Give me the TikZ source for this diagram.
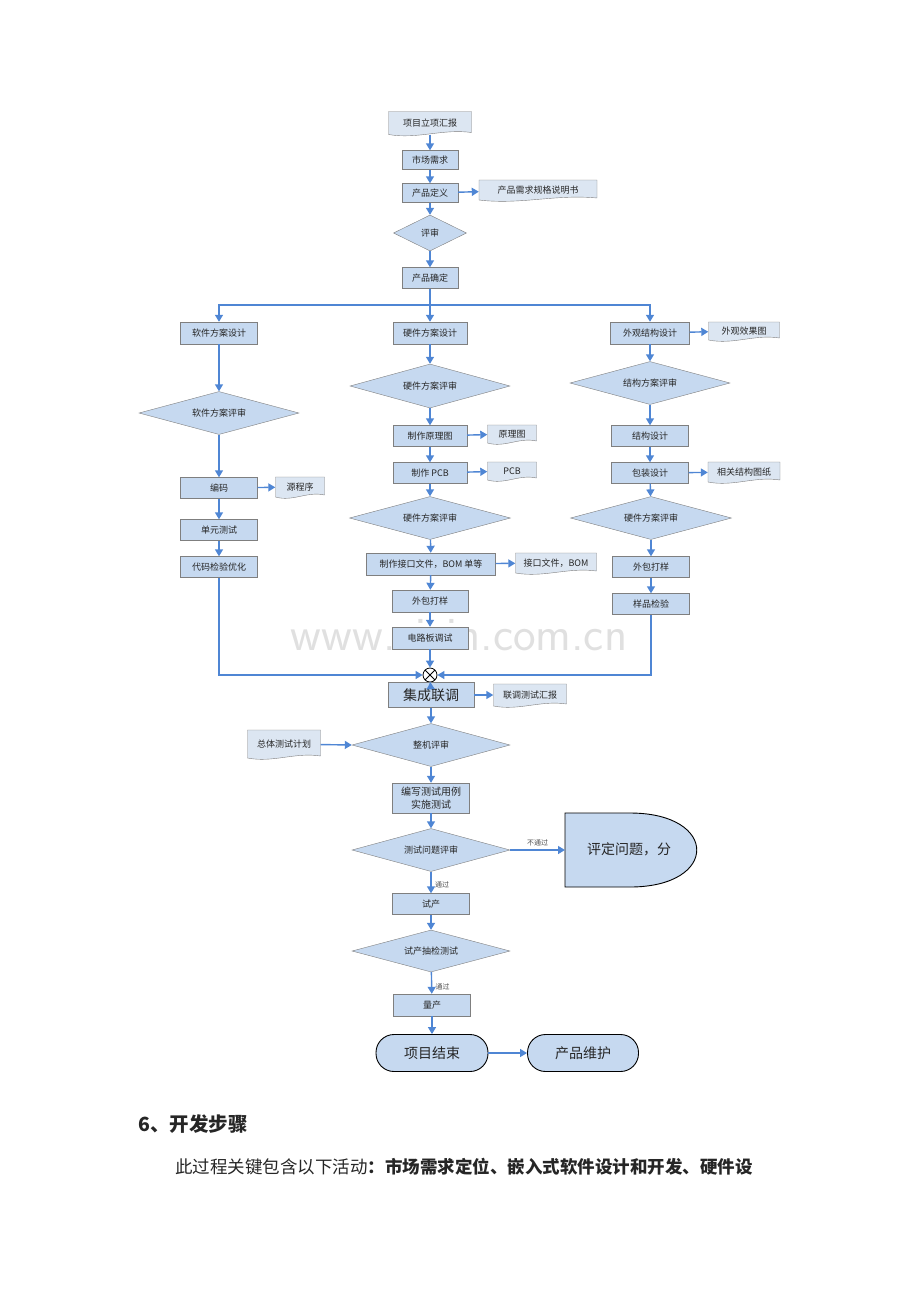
\documentclass[tikz,border=0pt]{standalone}
\usepackage{fontspec}
\newfontfamily\cjk{Noto Sans CJK SC}
\usetikzlibrary{arrows.meta,shapes.geometric,calc}
\definecolor{bfill}{HTML}{C6D9F0}
\definecolor{dfill}{HTML}{DCE6F2}
\definecolor{edge}{HTML}{7F7F7F}
\definecolor{arr}{HTML}{4F86D4}
\tikzset{
 x=1pt,y=-1pt,
 every node/.style={font=\cjk\fontsize{9}{10}\selectfont,text=black!85},
 box/.style={draw=edge,fill=bfill,inner sep=1pt},
 dia/.style={draw=edge,fill=bfill,diamond,inner sep=0pt,shape aspect=3.7},
 docst/.style={draw=edge,fill=dfill},
 ar/.style={draw=arr,line width=1.4pt,-{Triangle[length=7pt,width=8pt]}},
 ln/.style={draw=arr,line width=1.4pt},
 lbl/.style={font=\cjk\fontsize{7}{8}\selectfont,text=black!70}
}
\newcommand\bx[6]{\node[box,minimum width=#4pt,minimum height=#5pt] (#1) at (#2,#3) {#6};}
\newcommand\dm[6]{\node[dia,minimum width=#4pt,minimum height=#5pt] (#1) at (#2,#3) {#6};}
\newcommand\dc[6]{%
 \begin{scope}[shift={(#2,#3)}]
 \pgfmathsetmacro\hw{#4/2}\pgfmathsetmacro\hh{#5/2}
 \filldraw[docst] (-\hw,-\hh) -- (\hw,-\hh) -- (\hw,\hh-2) .. controls (0.3*\hw,\hh-6) and (-0.3*\hw,\hh+5) .. (-\hw,\hh) -- cycle;
 \end{scope}
 \node[inner sep=1pt,minimum width=#4pt,minimum height=#5pt] (#1) at (#2,#3) {#6};}
\begin{document}
\begin{tikzpicture}
\useasboundingbox (0,0) rectangle (920,1302);
\node[font=\sffamily\fontsize{48}{50}\selectfont,text=black!12] (wm) at (459,635) {www.zixin.com.cn};
% top chain
\dc{a}{430}{123}{83}{23}{项目立项汇报}
\bx{b}{430}{160}{56}{19}{市场需求}
\bx{c}{430}{193}{56}{19}{产品定义}
\dc{cd}{538}{190}{118}{20}{产品需求规格说明书}
\dm{d}{430}{233}{73}{36}{评审}
\bx{e}{430}{278}{56}{21}{产品确定}
\coordinate (br) at (430,305);
% software
\bx{s1}{219}{333}{77}{22}{软件方案设计}
\dm{s2}{219}{413}{160}{43}{软件方案评审}
\bx{s3}{219}{488}{77}{21}{编码}
\dc{s3d}{300}{487}{49}{20}{源程序}
\bx{s4}{219}{530}{77}{21}{单元测试}
\bx{s5}{219}{567}{77}{21}{代码检验优化}
% hardware
\bx{h1}{430}{333}{74}{22}{硬件方案设计}
\dm{h2}{430}{386}{160}{44}{硬件方案评审}
\bx{h3}{430}{436}{74}{21}{制作原理图}
\dc{h3d}{512}{434}{49}{18}{原理图}
\bx{h4}{430}{473}{74}{21}{制作 PCB}
\dc{h4d}{512}{471}{49}{18}{PCB}
\dm{h5}{430}{518}{161}{43}{硬件方案评审}
\bx{h6}{431}{564}{129}{22}{制作接口文件，BOM 单等}
\dc{h6d}{556}{563}{81}{20}{接口文件，BOM}
\bx{h7}{430}{601}{76}{22}{外包打样}
\bx{h8}{430}{638}{76}{22}{电路板调试}
% structure
\bx{t1}{650}{333}{79}{22}{外观结构设计}
\dc{t1d}{744}{331}{71}{18}{外观效果图}
\dm{t2}{650}{383}{160}{43}{结构方案评审}
\bx{t3}{650}{436}{77}{21}{结构设计}
\bx{t4}{650}{473}{77}{21}{包装设计}
\dc{t4d}{744}{472}{72}{20}{相关结构图纸}
\dm{t5}{651}{518}{161}{43}{硬件方案评审}
\bx{t6}{651}{567}{77}{21}{外包打样}
\bx{t7}{651}{604}{77}{21}{样品检验}
% merge
\node[draw,circle,fill=white,minimum size=14pt,inner sep=0pt,line width=0.8pt,
 path picture={\draw[line width=0.8pt] (path picture bounding box.north west)--(path picture bounding box.south east) (path picture bounding box.north east)--(path picture bounding box.south west);}] (m) at (430,675) {};
\node[box,minimum width=86pt,minimum height=25pt,font=\cjk\fontsize{14}{16}\selectfont] (i1) at (431,695) {集成联调};
\dc{i1d}{530}{695}{73}{22}{联调测试汇报}
\dm{i2}{431}{745}{158}{43}{整机评审}
\dc{i2d}{284}{744}{73}{28}{总体测试计划}
\node[box,minimum width=77pt,minimum height=30pt,align=center,font=\cjk\fontsize{10}{13}\selectfont] (i3) at (431,798) {编写测试用例\\实施测试};
\dm{i4}{431}{850}{158}{43}{测试问题评审}
\filldraw[fill=bfill,draw=black,line width=0.9pt] (565,813) -- (630,813) .. controls (719,813) and (719,887) .. (630,887) -- (565,887) -- cycle;
\node[font=\cjk\fontsize{14}{16}\selectfont,inner sep=0pt] (q) at (629,849) {评定问题，分};
\coordinate (qw) at (565,850);
\bx{i5}{431}{904}{77}{21}{试产}
\dm{i6}{431}{951}{158}{42}{试产抽检测试}
\bx{i7}{432}{1005}{77}{22}{量产}
\node[draw=black,fill=bfill,rounded corners=18pt,minimum width=112pt,minimum height=37pt,line width=0.9pt,font=\cjk\fontsize{14}{16}\selectfont] (z1) at (432,1053) {项目结束};
\node[draw=black,fill=bfill,rounded corners=18pt,minimum width=111pt,minimum height=37pt,line width=0.9pt,font=\cjk\fontsize{14}{16}\selectfont] (z2) at (583,1053) {产品维护};
% connectors
\draw[ar] (a) -- (b); \draw[ar] (b) -- (c); \draw[ar] (c) -- (cd);
\draw[ar] (c) -- (d); \draw[ar] (d) -- (e); \draw[ar] (e) -- (h1);
\draw[ar] (br) -| (s1.north); \draw[ar] (br) -| (t1.north);
\draw[ar] (s1) -- (s2); \draw[ar] (s2) -- (s3); \draw[ar] (s3) -- (s3d); \draw[ar] (s3) -- (s4); \draw[ar] (s4) -- (s5);
\draw[ar] (h1) -- (h2); \draw[ar] (h2) -- (h3); \draw[ar] (h3) -- (h3d); \draw[ar] (h3) -- (h4); \draw[ar] (h4) -- (h4d);
\draw[ar] (h4) -- (h5); \draw[ar] (h5) -- (h6); \draw[ar] (h6) -- (h6d); \draw[ar] (h6) -- (h7); \draw[ar] (h7) -- (h8);
\draw[ar] (t1) -- (t1d); \draw[ar] (t1) -- (t2); \draw[ar] (t2) -- (t3); \draw[ar] (t3) -- (t4); \draw[ar] (t4) -- (t4d);
\draw[ar] (t4) -- (t5); \draw[ar] (t5) -- (t6); \draw[ar] (t6) -- (t7);
\draw[ar] (s5.south) |- (m.west); \draw[ar] (t7.south) |- (m.east); \draw[ar] (h8) -- (m);
\draw[ar] (m) -- (i1); \draw[ar] (i1) -- (i1d); \draw[ar] (i1) -- (i2); \draw[ar] (i2d) -- (i2.west);
\draw[ar] (i2) -- (i3); \draw[ar] (i3) -- (i4); \draw[ar] (i4.east) -- (qw) node[lbl,midway,above] {不通过};
\draw[ar] (i4) -- (i5) node[lbl,pos=0.6,right] {通过};
\draw[ar] (i5) -- (i6); \draw[ar] (i6) -- (i7) node[lbl,pos=0.7,right] {通过};
\draw[ar] (i7) -- (z1); \draw[ar] (z1) -- (z2);
% text
\node[anchor=west,inner sep=0pt,font=\cjk\bfseries\fontsize{19.5}{22}\selectfont] (h) at (138,1124) {6、开发步骤};
\node[anchor=west,inner sep=0pt,font=\cjk\fontsize{17.5}{20}\selectfont] (p) at (175,1167) {此过程关键包含以下活动\textbf{：市场需求定位、嵌入式软件设计和开发、硬件设}};
\end{tikzpicture}
\end{document}
